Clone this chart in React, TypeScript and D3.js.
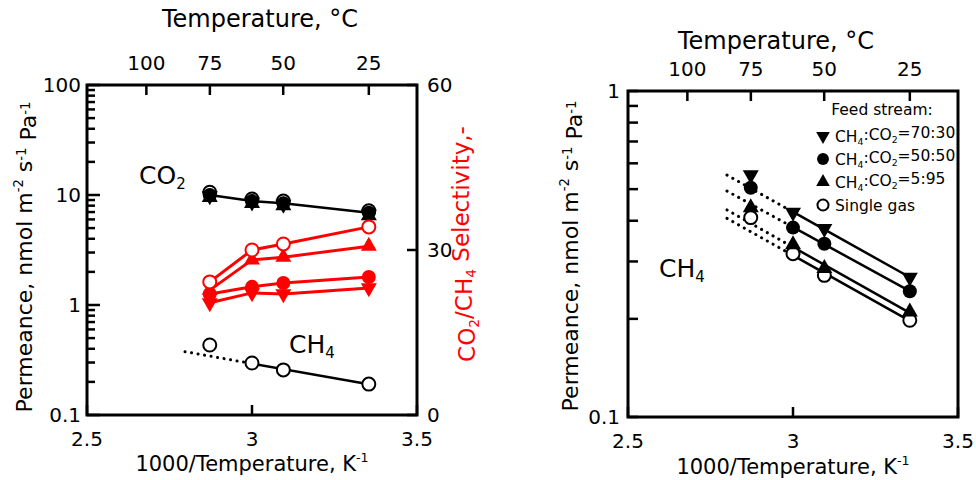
import * as d3 from "d3";

// 1000/T for the four measurement temperatures (75, 60, 50, 25 °C)
const invTemp = [2.872, 3.0, 3.095, 3.354];
const topTempC = [100, 75, 50, 25];
const bottomTicks = [2.5, 3, 3.5];

// left panel: permeance (log axis)
const co2Single = [10.6, 9.2, 8.8, 7.2];
const co2Mix7030 = [9.8, 8.6, 8.2, 6.7];
const co2Mix5050 = [10.0, 8.8, 8.4, 6.9];
const co2Mix595 = [9.5, 8.4, 8.0, 6.5];
const ch4SingleLeft = [0.433, 0.297, 0.257, 0.191];

// left panel: CO2/CH4 selectivity (right axis)
const selSingle = [24.2, 30.0, 31.1, 34.2];
const sel595 = [22.7, 28.2, 28.7, 30.7];
const sel5050 = [22.0, 23.3, 24.0, 25.1];
const sel7030 = [20.4, 22.2, 22.0, 23.1];
const selTicks = [0, 30, 60];

// right panel: CH4 permeance per feed stream
const ch4Mix7030 = [0.553, 0.424, 0.378, 0.268];
const ch4Mix5050 = [0.505, 0.381, 0.34, 0.243];
const ch4Mix595 = [0.439, 0.338, 0.286, 0.21];
const ch4Single = [0.409, 0.317, 0.272, 0.198];
const legendLabels = ["70:30", "50:50", "5:95"];

const FONT = "'DejaVu Sans', sans-serif";
const RED = "#ff0000";

const tempToX = (t: number) => 1000 / (t + 273.15);

// least-squares fit of log10(P) vs 1000/T on the last three points
function fit(vals: number[]) {
  const xs = invTemp.slice(1);
  const ys = vals.slice(1).map(Math.log10);
  const mx = d3.mean(xs)!, my = d3.mean(ys)!;
  const b = d3.sum(xs, (x, i) => (x - mx) * (ys[i] - my)) / d3.sum(xs, (x) => (x - mx) ** 2);
  return (x: number) => Math.pow(10, my + b * (x - mx));
}

function Marker({ type, x, y, color = "black", s = 1 }: any) {
  if (type === "circle") return <circle cx={x} cy={y} r={7 * s} fill={color} />;
  if (type === "open")
    return <circle cx={x} cy={y} r={6.5 * s} fill="white" stroke={color} strokeWidth={2} />;
  const w = 16 * s, h = 14 * s;
  const pts =
    type === "up"
      ? [[x, y - (h * 2) / 3], [x + w / 2, y + h / 3], [x - w / 2, y + h / 3]]
      : [[x, y + (h * 2) / 3], [x + w / 2, y - h / 3], [x - w / 2, y - h / 3]];
  return <polygon points={pts.map((p) => p.join(",")).join(" ")} fill={color} />;
}

function Sub({ children }: any) {
  return (
    <tspan fontSize="0.6em" dy="0.3em">
      {children}
    </tspan>
  );
}

function PermLabel({ x, y }: any) {
  return (
    <text transform={`translate(${x},${y}) rotate(-90)`} fontSize={22} textAnchor="middle">
      Permeance, nmol m<tspan fontSize="0.6em" dy="-0.7em">-2</tspan>
      <tspan dy="0.42em"> s</tspan><tspan fontSize="0.6em" dy="-0.42em">-1</tspan>
      <tspan dy="0.42em"> Pa</tspan><tspan fontSize="0.6em" dy="-0.42em">-1</tspan>
    </text>
  );
}

function XLabel({ x, y }: any) {
  return (
    <text x={x} y={y} fontSize={21} textAnchor="middle">
      1000/Temperature, K<tspan fontSize="0.6em" dy="-0.7em">-1</tspan>
    </text>
  );
}

const dotted = { stroke: "black", strokeWidth: 3, strokeDasharray: "0.1 6.5", strokeLinecap: "round" as const };

function LeftPanel() {
  const x = d3.scaleLinear().domain([2.5, 3.5]).range([87, 417]);
  const y = d3.scaleLog().domain([0.1, 100]).range([415, 85]);
  const ys = d3.scaleLinear().domain([0, 60]).range([415, 85]);
  const line = d3.line<number>().x((_, i) => x(invTemp[i])).y((d) => y(d));
  const selLine = d3.line<number>().x((_, i) => x(invTemp[i])).y((d) => ys(d));
  const ch4Fit = fit(ch4SingleLeft);
  const [x0, x1] = x.range();
  const [yb, yt] = y.range();

  return (
    <g fontFamily={FONT}>
      <text x={260} y={27} fontSize={24} textAnchor="middle">Temperature, °C</text>
      {topTempC.map((t) => (
        <g key={t}>
          <line x1={x(tempToX(t))} x2={x(tempToX(t))} y1={yt} y2={yt + 10} stroke="black" strokeWidth={2.5} />
          <text x={x(tempToX(t))} y={70} fontSize={20} textAnchor="middle">{t}</text>
        </g>
      ))}
      {y.ticks().map((v) => {
        const major = Math.abs(Math.log10(v) - Math.round(Math.log10(v))) < 1e-6;
        return (
          <line key={v} x1={x0} x2={x0 + (major ? 13 : 8)} y1={y(v)} y2={y(v)} stroke="black" strokeWidth={2.5} />
        );
      })}
      {[0.1, 1, 10, 100].map((v) => (
        <text key={v} x={x0 - 6} y={y(v) + 7} fontSize={20} textAnchor="end">{v}</text>
      ))}
      {selTicks.map((v) => (
        <g key={v}>
          <line x1={x1} x2={x1 - 10} y1={ys(v)} y2={ys(v)} stroke="black" strokeWidth={2.5} />
          <text x={x1 + 10} y={ys(v) + 7} fontSize={20}>{v}</text>
        </g>
      ))}
      {bottomTicks.map((v) => (
        <g key={v}>
          <line x1={x(v)} x2={x(v)} y1={yb} y2={yb - 10} stroke="black" strokeWidth={2.5} />
          <text x={x(v)} y={446} fontSize={20} textAnchor="middle">{v}</text>
        </g>
      ))}
      <XLabel x={252} y={471} />
      <PermLabel x={32} y={257} />
      <text transform="translate(475,244) rotate(-90)" fontSize={23} textAnchor="middle" fill={RED}>
        CO<Sub>2</Sub><tspan dy="-0.3em">/CH</tspan><Sub>4</Sub><tspan dy="-0.3em"> Selectivity,-</tspan>
      </text>

      {/* CH4 single gas */}
      <line x1={x(2.797)} x2={x(invTemp[1])} y1={y(ch4Fit(2.797))} y2={y(ch4Fit(invTemp[1]))} {...dotted} />
      <line x1={x(invTemp[1])} x2={x(invTemp[3])} y1={y(ch4Fit(invTemp[1]))} y2={y(ch4Fit(invTemp[3]))} stroke="black" strokeWidth={2.5} />
      {ch4SingleLeft.map((v, i) => <Marker key={i} type="open" x={x(invTemp[i])} y={y(v)} />)}

      {/* CO2 */}
      <path d={line(co2Mix5050)!} fill="none" stroke="black" strokeWidth={2.5} />
      {co2Single.map((v, i) => <Marker key={"o" + i} type="open" x={x(invTemp[i])} y={y(v)} />)}
      {co2Mix7030.map((v, i) => <Marker key={"d" + i} type="down" x={x(invTemp[i])} y={y(v)} />)}
      {co2Mix5050.map((v, i) => <Marker key={"c" + i} type="circle" x={x(invTemp[i])} y={y(v)} />)}
      {co2Mix595.map((v, i) => <Marker key={"u" + i} type="up" x={x(invTemp[i])} y={y(v)} />)}

      {/* selectivity */}
      {[sel7030, sel5050, sel595, selSingle].map((s, k) => (
        <path key={k} d={selLine(s)!} fill="none" stroke={RED} strokeWidth={3} />
      ))}
      {sel7030.map((v, i) => <Marker key={"sd" + i} type="down" x={x(invTemp[i])} y={ys(v)} color={RED} />)}
      {sel5050.map((v, i) => <Marker key={"sc" + i} type="circle" x={x(invTemp[i])} y={ys(v)} color={RED} />)}
      {sel595.map((v, i) => <Marker key={"su" + i} type="up" x={x(invTemp[i])} y={ys(v)} color={RED} />)}
      {selSingle.map((v, i) => <Marker key={"so" + i} type="open" x={x(invTemp[i])} y={ys(v)} color={RED} />)}

      <text x={139} y={184} fontSize={25}>CO<Sub>2</Sub></text>
      <text x={289} y={353} fontSize={25}>CH<Sub>4</Sub></text>

      <rect x={x0} y={yt} width={x1 - x0} height={yb - yt} fill="none" stroke="black" strokeWidth={3} />
    </g>
  );
}

function RightPanel() {
  const x = d3.scaleLinear().domain([2.5, 3.5]).range([628, 958]);
  const y = d3.scaleLog().domain([0.1, 1]).range([417, 91]);
  const [x0, x1] = x.range();
  const [yb, yt] = y.range();
  const series = [
    { vals: ch4Mix7030, type: "down" },
    { vals: ch4Mix5050, type: "circle" },
    { vals: ch4Mix595, type: "up" },
    { vals: ch4Single, type: "open" },
  ];

  return (
    <g fontFamily={FONT}>
      <text x={776} y={49} fontSize={24} textAnchor="middle">Temperature, °C</text>
      {topTempC.map((t) => (
        <g key={t}>
          <line x1={x(tempToX(t))} x2={x(tempToX(t))} y1={yt} y2={yt + 10} stroke="black" strokeWidth={2.5} />
          <text x={x(tempToX(t))} y={76} fontSize={20} textAnchor="middle">{t}</text>
        </g>
      ))}
      {y.ticks().map((v) => (
        <line key={v} x1={x0} x2={x0 + 10} y1={y(v)} y2={y(v)} stroke="black" strokeWidth={2.5} />
      ))}
      {[0.1, 1].map((v) => (
        <text key={v} x={x0 - 8} y={y(v) + 7} fontSize={20} textAnchor="end">{v}</text>
      ))}
      {bottomTicks.map((v) => (
        <g key={v}>
          <line x1={x(v)} x2={x(v)} y1={yb} y2={yb - 10} stroke="black" strokeWidth={2.5} />
          <text x={x(v)} y={448} fontSize={20} textAnchor="middle">{v}</text>
        </g>
      ))}
      <XLabel x={793} y={474} />
      <PermLabel x={578} y={256} />

      {series.map((s, k) => {
        const f = fit(s.vals);
        return (
          <g key={k}>
            <line x1={x(2.8)} x2={x(invTemp[1])} y1={y(f(2.8))} y2={y(f(invTemp[1]))} {...dotted} />
            <line x1={x(invTemp[1])} x2={x(invTemp[3])} y1={y(f(invTemp[1]))} y2={y(f(invTemp[3]))} stroke="black" strokeWidth={2.5} />
          </g>
        );
      })}
      {[...series].reverse().map((s, k) => (
        <g key={k}>
          {s.vals.map((v, i) => <Marker key={i} type={s.type} x={x(invTemp[i])} y={y(v)} />)}
        </g>
      ))}

      <text x={659} y={277} fontSize={25}>CH<Sub>4</Sub></text>

      <text x={882} y={115} fontSize={15.5} textAnchor="middle">Feed stream:</text>
      {series.map((s, k) => (
        <g key={k}>
          <Marker type={s.type} x={823} y={136 + k * 23} s={0.85} />
          <text x={835} y={142 + k * 23} fontSize={15.5}>
            {k < 3 ? (
              <>
                CH<Sub>4</Sub><tspan dy="-0.3em">:CO</tspan><Sub>2</Sub><tspan dy="-0.3em">={legendLabels[k]}</tspan>
              </>
            ) : (
              "Single gas"
            )}
          </text>
        </g>
      ))}

      <rect x={x0} y={yt} width={x1 - x0} height={yb - yt} fill="none" stroke="black" strokeWidth={3} />
    </g>
  );
}

export default function App() {
  return (
    <svg width={976} height={480} style={{ position: "absolute", left: 0, top: 0, background: "white" }}>
      <LeftPanel />
      <RightPanel />
    </svg>
  );
}
